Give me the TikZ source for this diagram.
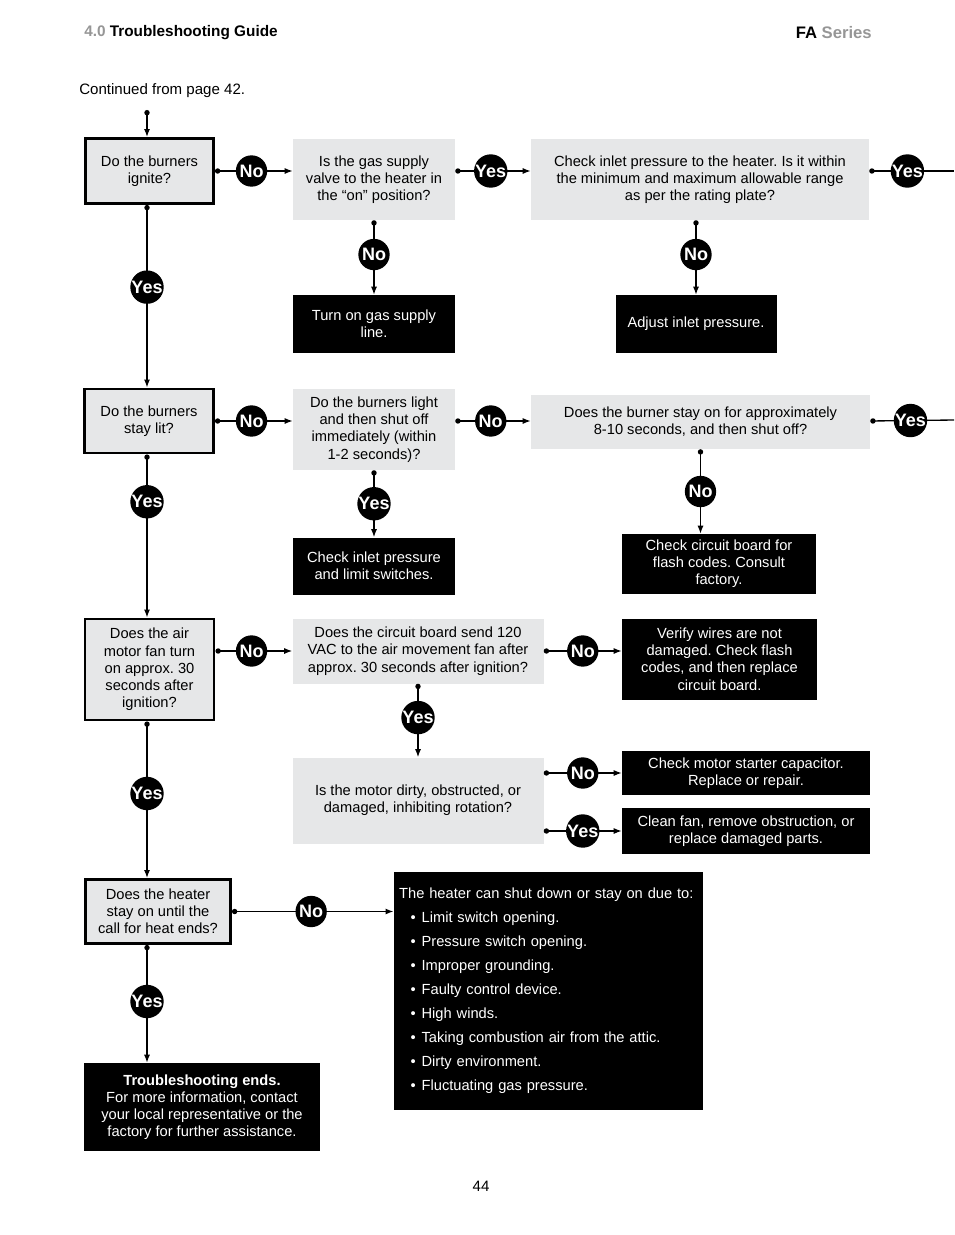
\documentclass[tikz,border=0pt]{standalone}
\usepackage{fontspec}
\setmainfont{Liberation Sans}
\frenchspacing
\usetikzlibrary{shapes,positioning,calc}
\usetikzlibrary{arrows.meta}
\definecolor{boxgray}{RGB}{230,231,232}
\definecolor{hdgray}{RGB}{150,150,150}
\tikzstyle{check} = [rectangle, fill=boxgray, draw=black, line width=2.2pt, align=center]
\tikzstyle{query} = [rectangle, fill=boxgray, align=center]
\tikzstyle{action} = [rectangle, fill=black, text=white, align=center]
\tikzstyle{answer} = [circle, fill=black, text=white, inner sep=0pt, minimum size=23.5pt, font=\fontsize{13.5}{13.5}\selectfont\bfseries]
\tikzstyle{arrow} = [line width=1pt, {Circle[length=4pt]}-{Latex[length=6pt,width=4.5pt]}]
\tikzstyle{exit} = [line width=1pt, {Circle[length=4pt]}-]
\tikzset{wh/.style 2 args={minimum width=#1*0.75pt, minimum height=#2*0.75pt}}

\begin{document}
\begin{tikzpicture}[x=0.75pt, y=-0.75pt, font=\fontsize{11}{12.9}\selectfont]
\useasboundingbox (0,0) rectangle (954,1235);
\node (hdl) at (84,33) [anchor=west, inner sep=0pt, font=\fontsize{11.5}{12}\selectfont\bfseries] {\textcolor{hdgray}{4.0} Troubleshooting Guide};
\node (hdr) at (872,33) [anchor=east, inner sep=0pt, font=\fontsize{12.5}{13}\selectfont\bfseries] {FA \textcolor{hdgray}{Series}};
\node (cont) at (79,91) [anchor=west, inner sep=0pt, font=\fontsize{11.3}{13}\selectfont] {Continued from page 42.};
\node (page) at (481,1186) [inner sep=0pt, font=\fontsize{11.3}{13}\selectfont] {44};
\coordinate (col) at (147,110);
\coordinate (out1) at (954,171);
\coordinate (out2) at (954,420);

\node (ign) at (149.5,171) [check, wh={128}{65}] {Do the burners\\ignite?};
\node (valve) at (374,179.5) [query, wh={162}{81}] {Is the gas supply\\valve to the heater in\\the “on” position?};
\node (inlet) at (700,179.5) [query, wh={338}{81}] {Check inlet pressure to the heater. Is it within\\the minimum and maximum allowable range\\as per the rating plate?};
\node (turnon) at (374,324) [action, wh={162}{58}] {Turn on gas supply\\line.};
\node (adjust) at (696,324) [action, wh={161}{58}] {Adjust inlet pressure.};
\node (lit) at (149,421) [check, wh={129}{64}] {Do the burners\\stay lit?};
\node (shutoff) at (374,429.5) [query, wh={162}{81}] {Do the burners light\\and then shut off\\immediately (within\\1-2 seconds)?};
\node (stayon) at (700.5,422) [query, wh={339}{54}] {Does the burner stay on for approximately\\8-10 seconds, and then shut off?};
\node (limit) at (374,566) [action, wh={162}{57}] {Check inlet pressure\\and limit switches.};
\node (flash) at (719,564) [action, wh={194}{60}] {Check circuit board for\\flash codes. Consult\\factory.};
\node (fan) at (149.5,669.5) [check, wh={129}{101}] {Does the air\\motor fan turn\\on approx. 30\\seconds after\\ignition?};
\node (vac) at (418,651) [query, wh={251}{65}] {Does the circuit board send 120\\VAC to the air movement fan after\\approx. 30 seconds after ignition?};
\node (wires) at (719.5,659) [action, wh={195}{81}] {Verify wires are not\\damaged. Check flash\\codes, and then replace\\circuit board.};
\node (motor) at (418,800.5) [query, wh={251}{86}] {Is the motor dirty, obstructed, or\\damaged, inhibiting rotation?};
\node (cap) at (746,773) [action, wh={248}{44}] {Check motor starter capacitor.\\Replace or repair.};
\node (clean) at (746,831) [action, wh={248}{46}] {Clean fan, remove obstruction, or\\replace damaged parts.};
\node (heat) at (158,911.5) [check, wh={145}{64}] {Does the heater\\stay on until the\\call for heat ends?};
\node (causes) at (548.5,991) [action, wh={309}{238}, align=left, text width=224pt, inner xsep=4pt, font=\fontsize{11}{18}\selectfont] {The heater can shut down or stay on due to:\\
\hspace*{8.5pt}\textbullet\hspace{4.5pt}Limit switch opening.\\
\hspace*{8.5pt}\textbullet\hspace{4.5pt}Pressure switch opening.\\
\hspace*{8.5pt}\textbullet\hspace{4.5pt}Improper grounding.\\
\hspace*{8.5pt}\textbullet\hspace{4.5pt}Faulty control device.\\
\hspace*{8.5pt}\textbullet\hspace{4.5pt}High winds.\\
\hspace*{8.5pt}\textbullet\hspace{4.5pt}Taking combustion air from the attic.\\
\hspace*{8.5pt}\textbullet\hspace{4.5pt}Dirty environment.\\
\hspace*{8.5pt}\textbullet\hspace{4.5pt}Fluctuating gas pressure.};
\node (ends) at (202,1107) [action, wh={236}{88}] {\textbf{Troubleshooting ends.}\\For more information, contact\\your local representative or the\\factory for further assistance.};

\draw[arrow] (col) -- (ign.north -| col);
\draw[arrow] (ign.east) -- node[answer, pos=0.47] (a1) {No} (ign.east -| valve.west);
\draw[arrow] (ign.east -| valve.east) -- node[answer, pos=0.47] (a2) {Yes} (ign.east -| inlet.west);
\draw[exit] (ign.east -| inlet.east) -- node[answer, pos=0.45] (a3) {Yes} (out1);
\draw[arrow] (valve.south) -- node[answer, pos=0.46] (a4) {No} (turnon.north);
\draw[arrow] (inlet.south -| adjust) -- node[answer, pos=0.46] (a5) {No} (adjust.north);
\draw[arrow] (ign.south -| col) -- node[answer, pos=0.45] (a6) {Yes} (lit.north -| col);
\draw[arrow] (lit.east) -- node[answer, pos=0.47] (a7) {No} (lit.east -| shutoff.west);
\draw[arrow] (lit.east -| shutoff.east) -- node[answer, pos=0.47] (a8) {No} (lit.east -| stayon.west);
\draw[exit] (lit.east -| stayon.east) -- node[answer, pos=0.48] (a9) {Yes} (out2);
\draw[arrow] (stayon.south) -- node[answer] (a10) {No} (stayon.south |- flash.north);
\draw[arrow] (shutoff.south) -- node[answer] (a11) {Yes} (limit.north);
\draw[arrow] (lit.south -| col) -- node[answer, pos=0.29] (a12) {Yes} (fan.north -| col);
\draw[arrow] (fan.east |- vac) -- node[answer, pos=0.47] (a13) {No} (vac.west);
\draw[arrow] (vac.east) -- node[answer] (a14) {No} (vac.east -| wires.west);
\draw[arrow] (vac.south) -- node[answer, pos=0.46] (a15) {Yes} (motor.north);
\draw[arrow] (motor.east |- cap) -- node[answer] (a16) {No} (cap.west);
\draw[arrow] (motor.east |- clean) -- node[answer] (a17) {Yes} (clean.west);
\draw[arrow] (fan.south -| col) -- node[answer, pos=0.46] (a18) {Yes} (heat.north -| col);
\draw[arrow] (heat.east) -- node[answer, pos=0.49] (a19) {No} (heat.east -| causes.west);
\draw[arrow] (heat.south -| col) -- node[answer, pos=0.48] (a20) {Yes} (ends.north -| col);
\end{tikzpicture}
\end{document}
